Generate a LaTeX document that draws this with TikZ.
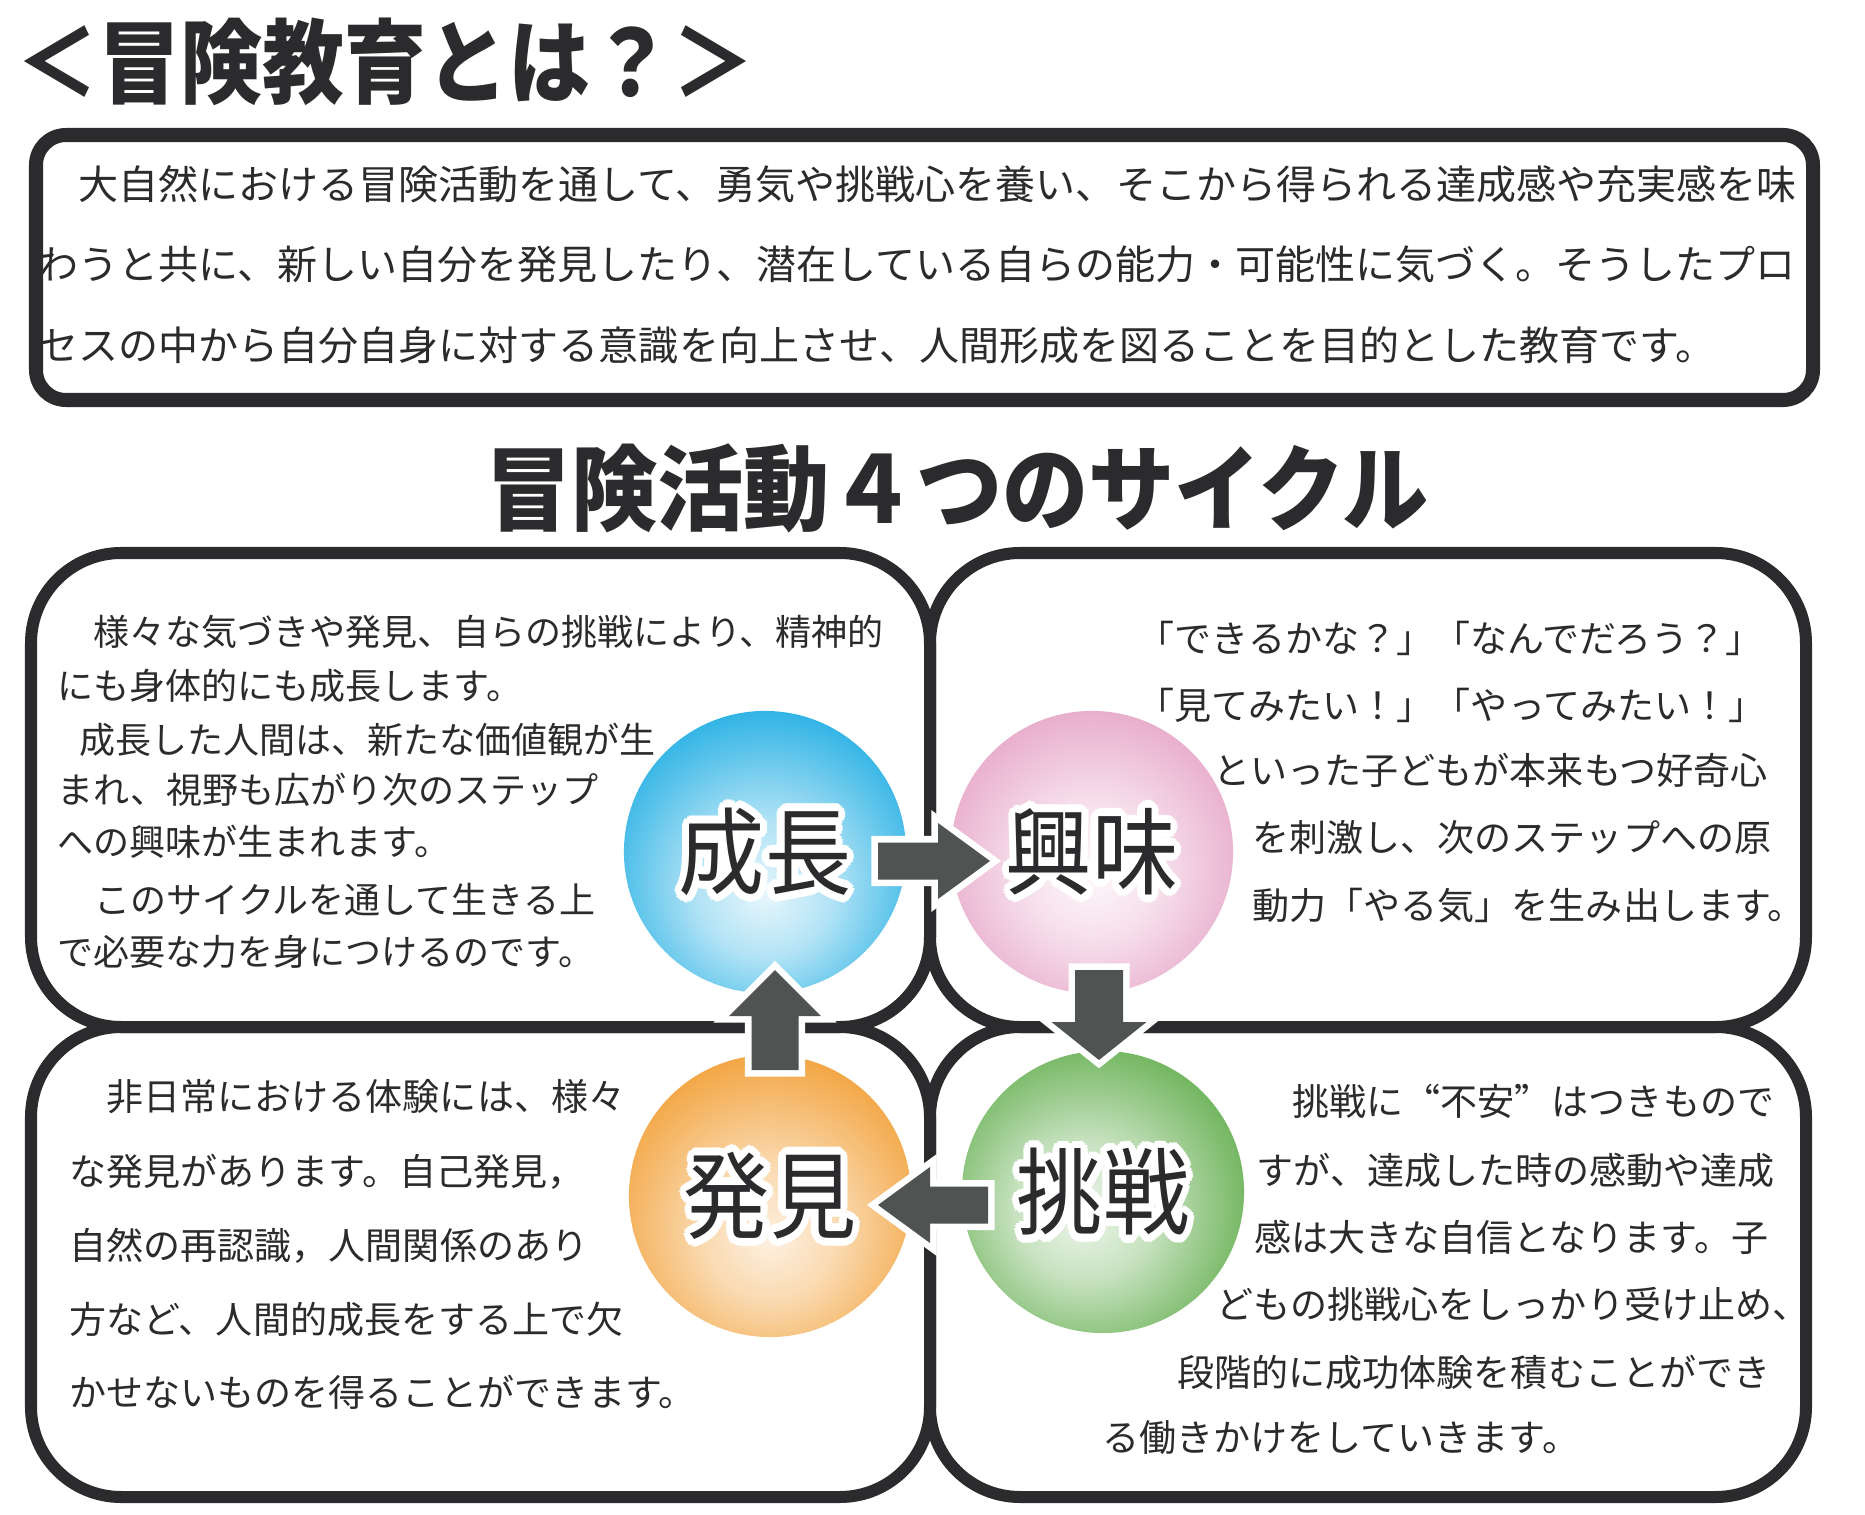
\documentclass[tikz,border=0pt]{standalone}
\usepackage{fontspec}
\usepackage{graphicx}
\usetikzlibrary{calc}

\newfontfamily\jp{Noto Sans CJK JP}
\newfontfamily\jpfw[CharacterWidth=Full]{Noto Sans CJK JP}

\definecolor{ink}{HTML}{2B2B2D}
\definecolor{arrowgray}{HTML}{4F5452}
\definecolor{blueC}{HTML}{00A2DF}
\definecolor{pinkC}{HTML}{E08FBA}
\definecolor{greenC}{HTML}{4AA132}
\definecolor{orangeC}{HTML}{F0941E}

\pgfdeclareradialshading{blueball}{\pgfpoint{0bp}{-8bp}}{%
  color(0bp)=(blueC!10!white); color(12bp)=(blueC!30!white);
  color(24bp)=(blueC!65!white); color(33bp)=(blueC!90!white);
  color(41bp)=(blueC); color(70bp)=(blueC)}
\pgfdeclareradialshading{pinkball}{\pgfpoint{0bp}{-4bp}}{%
  color(0bp)=(pinkC!6!white); color(12bp)=(pinkC!28!white);
  color(24bp)=(pinkC!62!white); color(33bp)=(pinkC!88!white);
  color(41bp)=(pinkC); color(70bp)=(pinkC)}
\pgfdeclareradialshading{greenball}{\pgfpoint{-4bp}{-4bp}}{%
  color(0bp)=(greenC!10!white); color(12bp)=(greenC!30!white);
  color(24bp)=(greenC!65!white); color(33bp)=(greenC!90!white);
  color(41bp)=(greenC); color(70bp)=(greenC)}
\pgfdeclareradialshading{orangeball}{\pgfpoint{0bp}{-8bp}}{%
  color(0bp)=(orangeC!14!white); color(12bp)=(orangeC!35!white);
  color(24bp)=(orangeC!68!white); color(33bp)=(orangeC!92!white);
  color(41bp)=(orangeC); color(70bp)=(orangeC)}

% 白いふち取り文字
\newcommand\halo[1]{%
  \foreach \hang in {0,22.5,...,337.5}{%
    \pgfmathsetlengthmacro\hx{0.7mm*cos(\hang)}%
    \pgfmathsetlengthmacro\hy{0.7mm*sin(\hang)}%
    \rlap{\hspace*{\hx}\raisebox{\hy}{\textcolor{white}{#1}}}}%
  #1}

\begin{document}
\begin{tikzpicture}[
  x=0.01cm, y=-0.01cm,
  every node/.style={inner sep=0pt, text=ink},
  frame/.style={draw=ink, line width=0.12cm, rounded corners=0.9cm},
  descframe/.style={draw=ink, line width=0.14cm, rounded corners=0.3cm},
  headtext/.style={font=\jp\bfseries\fontsize{24.5pt}{27pt}\selectfont},
  desctext/.style={anchor=west, font=\jp\fontsize{11.38pt}{13pt}\selectfont},
  bodyline/.style={anchor=west, font=\jp\fontsize{10.53pt}{12pt}\selectfont},
  ball/.style={circle, minimum size=2.82cm, shade,
    font=\jp\fontsize{24.5pt}{26pt}\selectfont},
  blockarrow/.style={fill=arrowgray,
    preaction={draw=white, line width=0.13cm, line join=miter}}
]
  % 背景
  \fill[white] (0,0) rectangle (1865,1515);
  \useasboundingbox (0,0) rectangle (1865,1515);

  % 見出し
  \node[headtext, anchor=west, font=\jp\bfseries\fontsize{23.3pt}{26pt}\selectfont]
    (title) at (16,62) {\scalebox{1}[1.12]{＜冒険教育とは？＞}};
  \node[headtext] (cycle) at (957,488) {\scalebox{1}[1.08]{冒険活動４つのサイクル}};

  % 説明の枠
  \draw[descframe] (36,135) rectangle (1813,400);
  \foreach \y/\t [count=\n] in {
    184/　大自然における冒険活動を通して、勇気や挑戦心を養い、そこから得られる達成感や充実感を味,
    264/わうと共に、新しい自分を発見したり、潜在している自らの能力・可能性に気づく。そうしたプロ,
    345/セスの中から自分自身に対する意識を向上させ、人間形成を図ることを目的とした教育です。}
    \node[desctext] (desc\n) at (38,\y) {\t};

  % 4つの枠
  \foreach \xa/\ya/\xb/\yb in {31/553/930/1027, 930/553/1806/1027,
                               31/1027/930/1497, 930/1027/1806/1497}
    \draw[frame] (\xa,\ya) rectangle (\xb,\yb);

  % 成長の文
  \foreach \x/\y/\t [count=\n] in {
    93/632/様々な気づきや発見、自らの挑戦により、精神的,
    57/686/にも身体的にも成長します。,
    79/740/成長した人間は、新たな価値観が生,
    57/790/まれ、視野も広がり次のステップ,
    57/842/への興味が生まれます。,
    94/900/このサイクルを通して生きる上,
    57/952/で必要な力を身につけるのです。}
    \node[bodyline, font=\jp\fontsize{10.24pt}{12pt}\selectfont] (tl\n) at (\x,\y) {\t};

  % 興味の文
  \foreach \x/\y/\t [count=\n] in {
    1137/638/「できるかな？」「なんでだろう？」,
    1137/705/「見てみたい！」「やってみたい！」,
    1213/770/といった子どもが本来もつ好奇心,
    1252/838/を刺激し、次のステップへの原,
    1252/905/動力「やる気」を生み出します。}
    \node[bodyline] (tr\n) at (\x,\y) {\t};

  % 発見の文
  \foreach \x/\y/\t [count=\n] in {
    106/1097/非日常における体験には、様々,
    69/1172/な発見があります。自己発見，,
    69/1246/自然の再認識，人間関係のあり,
    69/1319/方など、人間的成長をする上で欠,
    69/1392/かせないものを得ることができます。}
    \node[bodyline] (bl\n) at (\x,\y) {\t};

  % 挑戦の文
  \foreach \x/\y/\t [count=\n] in {
    1292/1101/挑戦に“不安”はつきもので,
    1256/1170/すが、達成した時の感動や達成,
    1254/1237/感は大きな自信となります。子,
    1216/1304/どもの挑戦心をしっかり受け止め、,
    1177/1372/段階的に成功体験を積むことができ,
    1102/1438/る働きかけをしていきます。}
    \node[bodyline, font=\jpfw\fontsize{10.53pt}{12pt}\selectfont] (br\n) at (\x,\y) {\t};

  % 4つの玉
  \node[ball, shading=blueball]   (seicho) at (765,852)  {\scalebox{1}[1.1]{\halo{成長}}};
  \node[ball, shading=pinkball]   (kyomi)  at (1092,852) {\scalebox{1}[1.1]{\halo{興味}}};
  \node[ball, shading=greenball]  (chosen) at (1103,1192) {\scalebox{1}[1.1]{\halo{挑戦}}};
  \node[ball, shading=orangeball] (hakken) at (770,1196) {\scalebox{1}[1.1]{\halo{発見}}};

  % 矢印の根元
  \coordinate (a1) at ($(seicho)+(113,9)$);
  \coordinate (a2) at ($(kyomi)+(7,118)$);
  \coordinate (a3) at ($(chosen)+(-115,13)$);
  \coordinate (a4) at ($(hakken)+(5,-126)$);

  % 矢印
  \foreach \tl/\ang/\len/\sh/\hh/\hl in {a1/0/112/18.5/38/52, a2/-90/90/24/47.5/38,
                                          a3/180/110/18.5/38/52, a4/90/100/23.5/46/46}
    \fill[blockarrow, shift={(\tl)}, rotate=\ang]
      (0,-\sh) -- ({\len-\hl},-\sh) -- ({\len-\hl},-\hh) -- (\len,0)
      -- ({\len-\hl},\hh) -- ({\len-\hl},\sh) -- (0,\sh) -- cycle;
\end{tikzpicture}
\end{document}
